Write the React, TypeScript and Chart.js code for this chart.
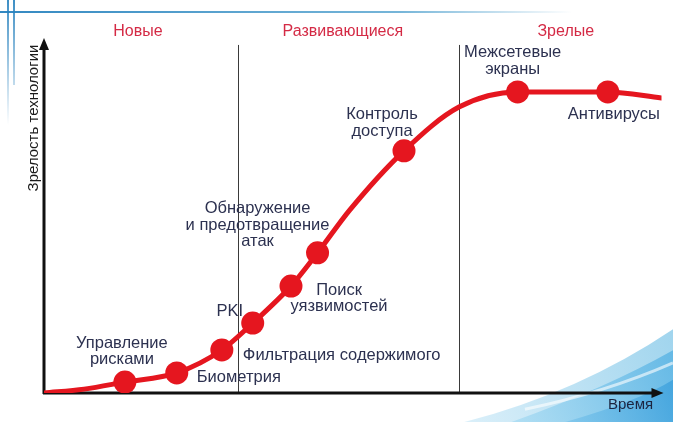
import React, { useEffect, useRef } from "react";
import { Chart, registerables } from "chart.js";

Chart.register(...registerables);

// ---- data ----
const technologies = [
  "Управление\nрисками",
  "Биометрия",
  "Фильтрация содержимого",
  "PKI",
  "Поиск\nуязвимостей",
  "Обнаружение\nи предотвращение\nатак",
  "Контроль\nдоступа",
  "Межсетевые\nэкраны",
  "Антивирусы",
];
const techTime = [13.1, 21.5, 28.8, 33.8, 40.0, 44.3, 58.3, 76.7, 91.3];
const techMaturity = [3.1, 5.7, 12.2, 19.8, 30.3, 39.7, 68.6, 85.3, 85.3];

const curveTime = [0, 6.5, 13.1, 21.5, 28.8, 33.8, 40.0, 44.3, 49.5, 58.3, 67.2, 76.7, 91.3, 100];
const curveMaturity = [0, 1.1, 3.1, 5.7, 12.2, 19.8, 30.3, 39.7, 51.8, 68.6, 81.0, 85.3, 85.3, 83.6];

const phases = ["Новые", "Развивающиеся", "Зрелые"];
const phaseLabelTime = [15.2, 48.4, 84.5];
const phaseBounds = [31.4, 67.2];

const yTitle = "Зрелость технологии";
const xTitle = "Время";

// ---- label placement (px offsets from marker) ----
const labelDx = [-3, 20, 21, -23, 48, -60, -22, -5, 6];
const labelDy = [-39, 5, 6, -12, 4, -44, -36, -39, 23];
const labelAlign: CanvasTextAlign[] = ["center", "left", "left", "center", "center", "center", "center", "center", "center"];

const RED = "#e5161f";
const TEXT = "#2c3150";
const TITLE_RED = "#d42a45";
const FONT = '"Liberation Sans", Arial, sans-serif';

const decorPlugin = {
  id: "decor",
  beforeDraw(chart: any) {
    const { ctx, width, height } = chart;
    ctx.save();
    ctx.fillStyle = "#ffffff";
    ctx.fillRect(0, 0, width, height);
    // top line
    let g = ctx.createLinearGradient(0, 0, width * 0.85, 0);
    g.addColorStop(0, "rgba(40,130,190,0.95)");
    g.addColorStop(0.7, "rgba(60,150,200,0.7)");
    g.addColorStop(1, "rgba(60,150,200,0)");
    ctx.strokeStyle = g;
    ctx.lineWidth = 2;
    ctx.beginPath();
    ctx.moveTo(0, 12);
    ctx.lineTo(width * 0.85, 12);
    ctx.stroke();
    // vertical lines
    g = ctx.createLinearGradient(0, 0, 0, 125);
    g.addColorStop(0, "rgba(40,130,190,0.9)");
    g.addColorStop(1, "rgba(40,130,190,0)");
    ctx.strokeStyle = g;
    ctx.lineWidth = 2;
    ctx.beginPath();
    ctx.moveTo(8, 0);
    ctx.lineTo(8, 125);
    ctx.moveTo(14, 0);
    ctx.lineTo(14, 85);
    ctx.stroke();
    // bottom-right waves
    const waves = [
      { sx: 0.69, ey: 0.78, cx: 0.86, cy: 0.93, c0: "rgba(215,238,249,0.9)", c1: "rgba(150,208,236,0.9)" },
      { sx: 0.76, ey: 0.83, cx: 0.9, cy: 0.92, c0: "rgba(170,220,243,0.8)", c1: "rgba(90,180,228,0.85)" },
      { sx: 0.84, ey: 0.9, cx: 0.95, cy: 0.95, c0: "rgba(120,195,235,0.7)", c1: "rgba(60,160,220,0.8)" },
    ];
    for (const w of waves) {
      const gr = ctx.createLinearGradient(w.sx * width, height, width, w.ey * height);
      gr.addColorStop(0, w.c0);
      gr.addColorStop(1, w.c1);
      ctx.fillStyle = gr;
      ctx.beginPath();
      ctx.moveTo(w.sx * width, height);
      ctx.quadraticCurveTo(w.cx * width, w.cy * height, width, w.ey * height);
      ctx.lineTo(width, height);
      ctx.closePath();
      ctx.fill();
    }
    // light streaks
    ctx.strokeStyle = "rgba(255,255,255,0.6)";
    ctx.lineWidth = 3;
    ctx.beginPath();
    ctx.moveTo(width * 0.78, height * 0.97);
    ctx.quadraticCurveTo(width * 0.9, height * 0.93, width, height * 0.86);
    ctx.stroke();
    ctx.restore();
  },
};

const framePlugin = {
  id: "frame",
  beforeDatasetsDraw(chart: any) {
    const { ctx, chartArea, scales } = chart;
    const xs = scales.x;
    const ys = scales.y;
    ctx.save();
    // phase dividers
    ctx.strokeStyle = "#3a3a3a";
    ctx.lineWidth = 1;
    for (const b of phaseBounds) {
      const px = Math.round(xs.getPixelForValue(b)) + 0.5;
      ctx.beginPath();
      ctx.moveTo(px, ys.getPixelForValue(98.6));
      ctx.lineTo(px, chartArea.bottom);
      ctx.stroke();
    }
    // axes
    const x0 = chartArea.left;
    const y0 = chartArea.bottom;
    ctx.strokeStyle = "#111111";
    ctx.fillStyle = "#111111";
    ctx.lineWidth = 3;
    ctx.beginPath();
    ctx.moveTo(x0, y0 + 1);
    ctx.lineTo(x0, chartArea.top + 8);
    ctx.stroke();
    ctx.beginPath();
    ctx.moveTo(x0 - 1, y0);
    ctx.lineTo(chartArea.right - 8, y0);
    ctx.stroke();
    // arrow heads
    ctx.beginPath();
    ctx.moveTo(x0, chartArea.top - 2);
    ctx.lineTo(x0 - 5, chartArea.top + 10);
    ctx.lineTo(x0 + 5, chartArea.top + 10);
    ctx.closePath();
    ctx.fill();
    ctx.beginPath();
    ctx.moveTo(chartArea.right + 2, y0);
    ctx.lineTo(chartArea.right - 10, y0 - 5);
    ctx.lineTo(chartArea.right - 10, y0 + 5);
    ctx.closePath();
    ctx.fill();

    // phase titles
    ctx.fillStyle = TITLE_RED;
    ctx.font = `16px ${FONT}`;
    ctx.textAlign = "center";
    ctx.textBaseline = "middle";
    phases.forEach((p, i) => {
      ctx.fillText(p, xs.getPixelForValue(phaseLabelTime[i]), ys.getPixelForValue(102.3));
    });

    // axis titles
    ctx.fillStyle = "#1a1a1a";
    ctx.font = `15px ${FONT}`;
    ctx.save();
    ctx.translate(x0 - 10, chartArea.top + 78);
    ctx.rotate(-Math.PI / 2);
    ctx.fillText(yTitle, 0, 0);
    ctx.restore();
    ctx.fillStyle = "#1c2540";
    ctx.fillText(xTitle, chartArea.right - 31, y0 + 12);
    ctx.restore();
  },
  afterDatasetsDraw(chart: any) {
    const { ctx, scales } = chart;
    const xs = scales.x;
    const ys = scales.y;
    ctx.save();
    ctx.fillStyle = TEXT;
    ctx.font = `16.5px ${FONT}`;
    ctx.textBaseline = "middle";
    technologies.forEach((t, i) => {
      const px = xs.getPixelForValue(techTime[i]) + labelDx[i];
      const py = ys.getPixelForValue(techMaturity[i]) + labelDy[i];
      ctx.textAlign = labelAlign[i];
      t.split("\n").forEach((line, k) => {
        ctx.fillText(line, px, py + k * 16.5);
      });
    });
    ctx.restore();
  },
};

export default function App() {
  const ref = useRef<HTMLCanvasElement | null>(null);
  useEffect(() => {
    if (!ref.current) return;
    const chart = new Chart(ref.current, {
      type: "scatter",
      data: {
        datasets: [
          {
            label: "curve",
            data: curveTime.map((t, i) => ({ x: t, y: curveMaturity[i] })),
            showLine: true,
            borderColor: RED,
            borderWidth: 5,
            pointRadius: 0,
            cubicInterpolationMode: "monotone",
            borderCapStyle: "round",
            order: 2,
          } as any,
          {
            label: "tech",
            data: techTime.map((t, i) => ({ x: t, y: techMaturity[i] })),
            pointRadius: 11.5,
            pointBackgroundColor: RED,
            pointBorderWidth: 0,
            backgroundColor: RED,
            borderColor: RED,
            order: 1,
          } as any,
        ],
      },
      options: {
        responsive: false,
        animation: false,
        events: [],
        layout: { padding: { left: 44, right: 11, top: 40, bottom: 29 } },
        plugins: { legend: { display: false }, tooltip: { enabled: false } },
        scales: {
          x: { type: "linear", min: 0, max: 100, display: false },
          y: { type: "linear", min: 0, max: 100, display: false },
        },
      },
      plugins: [decorPlugin, framePlugin],
    });
    return () => chart.destroy();
  }, []);
  return (
    <div style={{ position: "fixed", left: 0, top: 0, width: 673, height: 422 }}>
      <canvas ref={ref} width={673} height={422} style={{ display: "block" }} />
    </div>
  );
}
